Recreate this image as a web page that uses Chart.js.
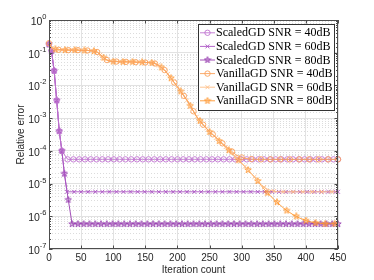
<!DOCTYPE html>
<html>
<head>
<meta charset="utf-8">
<script src="https://cdn.jsdelivr.net/npm/chart.js@4.4.1/dist/chart.umd.min.js"></script>
<style>
  html, body { margin: 0; padding: 0; background: #fff; }
  #chart { display: block; }
</style>
</head>
<body>
<canvas id="chart" width="374" height="280"></canvas>
<script>
// x axis ticks
const xTicks = [0, 50, 100, 150, 200, 250, 300, 350, 400, 450];

// ScaledGD runs (iteration, relative error)
const scaled40Iters = [0, 4, 8, 12, 16, 20, 29, 38, 47, 56, 65, 74, 83, 92, 101, 110, 119, 128, 137, 146,
  155, 164, 173, 182, 191, 200, 209, 218, 227, 236, 245, 254, 263, 272, 281, 290, 299, 308, 317, 326,
  335, 344, 353, 362, 371, 380, 389, 398, 407, 416, 425, 434, 443, 450];
const scaled40Err = [0.18, 0.112, 0.028, 3.5e-3, 4.0e-4, 1.0e-4, 5.5e-5, 5.5e-5, 5.5e-5, 5.5e-5,
  5.5e-5, 5.5e-5, 5.5e-5, 5.5e-5, 5.5e-5, 5.5e-5, 5.5e-5, 5.5e-5, 5.5e-5, 5.5e-5,
  5.5e-5, 5.5e-5, 5.5e-5, 5.5e-5, 5.5e-5, 5.5e-5, 5.5e-5, 5.5e-5, 5.5e-5, 5.5e-5,
  5.5e-5, 5.5e-5, 5.5e-5, 5.5e-5, 5.5e-5, 5.5e-5, 5.5e-5, 5.5e-5, 5.5e-5, 5.5e-5,
  5.5e-5, 5.5e-5, 5.5e-5, 5.5e-5, 5.5e-5, 5.5e-5, 5.5e-5, 5.5e-5, 5.5e-5, 5.5e-5,
  5.5e-5, 5.5e-5, 5.5e-5, 5.5e-5];

const scaled60Iters = [0, 4, 8, 12, 16, 20, 24, 28, 39, 50, 61, 72, 83, 94, 105, 116, 127, 138, 149, 160,
  171, 182, 193, 204, 215, 226, 237, 248, 259, 270, 281, 292, 303, 314, 325, 336, 347, 358, 369, 380,
  391, 402, 413, 424, 435, 446, 450];
const scaled60Err = [0.18, 0.112, 0.028, 3.5e-3, 4.0e-4, 1.0e-4, 2.0e-5, 5.6e-6, 5.6e-6, 5.6e-6,
  5.6e-6, 5.6e-6, 5.6e-6, 5.6e-6, 5.6e-6, 5.6e-6, 5.6e-6, 5.6e-6, 5.6e-6, 5.6e-6,
  5.6e-6, 5.6e-6, 5.6e-6, 5.6e-6, 5.6e-6, 5.6e-6, 5.6e-6, 5.6e-6, 5.6e-6, 5.6e-6,
  5.6e-6, 5.6e-6, 5.6e-6, 5.6e-6, 5.6e-6, 5.6e-6, 5.6e-6, 5.6e-6, 5.6e-6, 5.6e-6,
  5.6e-6, 5.6e-6, 5.6e-6, 5.6e-6, 5.6e-6, 5.6e-6, 5.6e-6];

const scaled80Iters = [0, 4, 8, 12, 16, 20, 24, 30, 36, 45, 54, 63, 72, 81, 90, 99, 108, 117, 126, 135,
  144, 153, 162, 171, 180, 189, 198, 207, 216, 225, 234, 243, 252, 261, 270, 279, 288, 297, 306, 315,
  324, 333, 342, 351, 360, 369, 378, 387, 396, 405, 414, 423, 432, 441, 450];
const scaled80Err = [0.18, 0.112, 0.028, 3.5e-3, 4.0e-4, 1.0e-4, 2.0e-5, 3.2e-6, 5.8e-7, 5.8e-7,
  5.8e-7, 5.8e-7, 5.8e-7, 5.8e-7, 5.8e-7, 5.8e-7, 5.8e-7, 5.8e-7, 5.8e-7, 5.8e-7,
  5.8e-7, 5.8e-7, 5.8e-7, 5.8e-7, 5.8e-7, 5.8e-7, 5.8e-7, 5.8e-7, 5.8e-7, 5.8e-7,
  5.8e-7, 5.8e-7, 5.8e-7, 5.8e-7, 5.8e-7, 5.8e-7, 5.8e-7, 5.8e-7, 5.8e-7, 5.8e-7,
  5.8e-7, 5.8e-7, 5.8e-7, 5.8e-7, 5.8e-7, 5.8e-7, 5.8e-7, 5.8e-7, 5.8e-7, 5.8e-7,
  5.8e-7, 5.8e-7, 5.8e-7, 5.8e-7, 5.8e-7];

// VanillaGD runs, all sampled at the same iterations
const vanillaIters = [0, 5, 10, 15, 20, 25, 30, 35, 40, 45,
  50, 55, 60, 65, 70, 75, 80, 85, 90, 95,
  100, 105, 110, 115, 120, 125, 130, 135, 140, 145,
  150, 155, 160, 165, 170, 175, 180, 185, 190, 195,
  200, 205, 210, 215, 220, 225, 230, 235, 240, 245,
  250, 255, 260, 265, 270, 275, 280, 285, 290, 295,
  300, 305, 310, 315, 320, 325, 330, 335, 340, 345,
  350, 355, 360, 365, 370, 375, 380, 385, 390, 395,
  400, 405, 410, 415, 420, 425, 430, 435, 440, 445,
  450];
const vanilla40Err = [0.195, 0.138, 0.126, 0.123, 0.123, 0.120, 0.120, 0.120, 0.120, 0.120,
  0.117, 0.117, 0.117, 0.115, 0.112, 0.105, 0.087, 0.071, 0.060, 0.055,
  0.0537, 0.0537, 0.0525, 0.0525, 0.0525, 0.0525, 0.0525, 0.0513, 0.0513, 0.0513,
  0.0501, 0.0501, 0.049, 0.0468, 0.0417, 0.0355, 0.0295, 0.0224, 0.0166, 0.0123,
  9.1e-3, 6.6e-3, 4.8e-3, 3.5e-3, 2.4e-3, 1.62e-3, 1.1e-3, 8.3e-4, 6.3e-4, 4.9e-4,
  3.8e-4, 3.2e-4, 2.6e-4, 2.1e-4, 1.7e-4, 1.4e-4, 1.15e-4, 9.5e-5, 7.9e-5, 6.9e-5,
  6.3e-5, 5.9e-5, 5.7e-5, 5.6e-5, 5.5e-5, 5.5e-5, 5.5e-5, 5.5e-5, 5.5e-5, 5.5e-5,
  5.5e-5, 5.5e-5, 5.5e-5, 5.5e-5, 5.5e-5, 5.5e-5, 5.5e-5, 5.5e-5, 5.5e-5, 5.5e-5,
  5.5e-5, 5.5e-5, 5.5e-5, 5.5e-5, 5.5e-5, 5.5e-5, 5.5e-5, 5.5e-5, 5.5e-5, 5.5e-5,
  5.5e-5];
const vanilla60Err = [0.195, 0.138, 0.126, 0.123, 0.123, 0.120, 0.120, 0.120, 0.120, 0.120,
  0.117, 0.117, 0.117, 0.115, 0.112, 0.105, 0.087, 0.071, 0.060, 0.055,
  0.0537, 0.0537, 0.0525, 0.0525, 0.0525, 0.0525, 0.0525, 0.0513, 0.0513, 0.0513,
  0.0501, 0.0501, 0.049, 0.0468, 0.0417, 0.0355, 0.0295, 0.0224, 0.0166, 0.0123,
  9.1e-3, 6.6e-3, 4.8e-3, 3.5e-3, 2.4e-3, 1.62e-3, 1.1e-3, 8.3e-4, 6.3e-4, 4.9e-4,
  3.8e-4, 3.1e-4, 2.5e-4, 2.0e-4, 1.6e-4, 1.3e-4, 1.05e-4, 8.3e-5, 6.6e-5, 5.2e-5,
  4.2e-5, 3.3e-5, 2.6e-5, 2.0e-5, 1.6e-5, 1.2e-5, 9.3e-6, 7.8e-6, 6.8e-6, 6.2e-6,
  5.9e-6, 5.7e-6, 5.6e-6, 5.6e-6, 5.6e-6, 5.6e-6, 5.6e-6, 5.6e-6, 5.6e-6, 5.6e-6,
  5.6e-6, 5.6e-6, 5.6e-6, 5.6e-6, 5.6e-6, 5.6e-6, 5.6e-6, 5.6e-6, 5.6e-6, 5.6e-6,
  5.6e-6];
const vanilla80Err = [0.195, 0.138, 0.126, 0.123, 0.123, 0.120, 0.120, 0.120, 0.120, 0.120,
  0.117, 0.117, 0.117, 0.115, 0.112, 0.105, 0.087, 0.071, 0.060, 0.055,
  0.0537, 0.0537, 0.0525, 0.0525, 0.0525, 0.0525, 0.0525, 0.0513, 0.0513, 0.0513,
  0.0501, 0.0501, 0.049, 0.0468, 0.0417, 0.0355, 0.0295, 0.0224, 0.0166, 0.0123,
  9.1e-3, 6.6e-3, 4.8e-3, 3.5e-3, 2.4e-3, 1.62e-3, 1.1e-3, 8.3e-4, 6.3e-4, 4.9e-4,
  3.8e-4, 3.1e-4, 2.5e-4, 2.0e-4, 1.6e-4, 1.3e-4, 1.05e-4, 8.3e-5, 6.6e-5, 5.2e-5,
  4.2e-5, 3.3e-5, 2.6e-5, 2.0e-5, 1.6e-5, 1.2e-5, 8.9e-6, 6.8e-6, 5.2e-6, 4.2e-6,
  3.3e-6, 2.7e-6, 2.2e-6, 1.8e-6, 1.5e-6, 1.3e-6, 1.12e-6, 1.0e-6, 8.9e-7, 8.1e-7,
  7.4e-7, 6.9e-7, 6.6e-7, 6.3e-7, 6.2e-7, 6.0e-7, 5.9e-7, 5.9e-7, 5.9e-7, 5.9e-7,
  5.9e-7];

const seriesLabels = [
  'ScaledGD SNR = 40dB', 'ScaledGD SNR = 60dB', 'ScaledGD SNR = 80dB',
  'VanillaGD SNR = 40dB', 'VanillaGD SNR = 60dB', 'VanillaGD SNR = 80dB'
];

const TEXT = '#262626';
const SANS = '"Liberation Sans", Arial, sans-serif';

function isDecade(v) {
  if (!(v > 0)) return false;
  const l = Math.log10(v);
  return Math.abs(l - Math.round(l)) < 1e-6;
}

function pairs(xs, ys) {
  return xs.map((x, i) => ({ x: x, y: ys[i] }));
}

// small pentagram marker as a canvas
function makeStar(stroke, fill, size) {
  const c = document.createElement('canvas');
  c.width = size; c.height = size;
  const g = c.getContext('2d');
  const cx = size / 2, cy = size / 2, ro = size / 2 - 0.6, ri = ro * 0.42;
  g.beginPath();
  for (let i = 0; i < 10; i++) {
    const a = -Math.PI / 2 + i * Math.PI / 5;
    const r = i % 2 ? ri : ro;
    g.lineTo(cx + r * Math.cos(a), cy + r * Math.sin(a));
  }
  g.closePath();
  g.fillStyle = fill;
  g.fill();
  g.strokeStyle = stroke;
  g.lineWidth = 0.8;
  g.stroke();
  return c;
}

const colors = {
  s40: 'rgb(192,115,208)',
  s60: 'rgb(172,85,196)',
  s80: 'rgb(150,58,175)',
  v40: 'rgb(250,160,90)',
  v60: 'rgb(255,190,135)',
  v80: 'rgb(255,150,45)'
};

function series(label, data, color, style, size, order, markerEvery, phase) {
  return {
    label: label,
    data: data,
    borderColor: color,
    borderWidth: 0.9,
    pointStyle: style,
    pointBorderColor: color,
    pointBackgroundColor: 'rgba(0,0,0,0)',
    pointBorderWidth: 0.9,
    pointRadius: markerEvery ? (c => (c.dataIndex % markerEvery === phase ? size : 0)) : size,
    markerSize: size,
    order: order,
    clip: false,
    tension: 0
  };
}

const datasets = [
  series(seriesLabels[0], pairs(scaled40Iters, scaled40Err), colors.s40, 'circle', 2.7, 1),
  series(seriesLabels[1], pairs(scaled60Iters, scaled60Err), colors.s60, 'crossRot', 2.8, 1),
  series(seriesLabels[2], pairs(scaled80Iters, scaled80Err), colors.s80,
    makeStar(colors.s80, 'rgba(150,58,175,0.3)', 8), 3, 1),
  series(seriesLabels[3], pairs(vanillaIters, vanilla40Err), colors.v40, 'circle', 2.7, 0, 3, 0),
  series(seriesLabels[4], pairs(vanillaIters, vanilla60Err), colors.v60, 'crossRot', 2.8, 0, 3, 1),
  series(seriesLabels[5], pairs(vanillaIters, vanilla80Err), colors.v80,
    makeStar(colors.v80, 'rgba(255,150,45,0.3)', 8), 3, 0, 3, 2)
];

// box, inward ticks, power-of-ten labels and the legend inside the axes
const axesDecor = {
  id: 'axesDecor',
  afterDraw(chart) {
    const { ctx, chartArea: a, scales } = chart;
    ctx.save();
    ctx.strokeStyle = '#4d4d4d';
    ctx.lineWidth = 1;
    ctx.beginPath();
    scales.y.ticks.forEach(t => {
      const py = Math.round(scales.y.getPixelForValue(t.value)) + 0.5;
      const len = isDecade(t.value) ? 3.5 : 2;
      ctx.moveTo(a.left, py); ctx.lineTo(a.left + len, py);
      ctx.moveTo(a.right, py); ctx.lineTo(a.right - len, py);
    });
    scales.x.ticks.forEach(t => {
      const px = Math.round(scales.x.getPixelForValue(t.value)) + 0.5;
      ctx.moveTo(px, a.bottom); ctx.lineTo(px, a.bottom - 3.5);
      ctx.moveTo(px, a.top); ctx.lineTo(px, a.top + 3.5);
    });
    ctx.stroke();
    ctx.strokeRect(Math.round(a.left) + 0.5, Math.round(a.top) + 0.5,
      Math.round(a.right - a.left) - 1, Math.round(a.bottom - a.top) - 1);

    // y labels as 10 with a raised exponent
    ctx.fillStyle = TEXT;
    ctx.textAlign = 'right';
    ctx.textBaseline = 'middle';
    const xr = a.left - 2.5;
    scales.y.ticks.forEach(t => {
      if (!isDecade(t.value)) return;
      const py = scales.y.getPixelForValue(t.value);
      const exp = String(Math.round(Math.log10(t.value)));
      ctx.font = '7.5px ' + SANS;
      const ew = ctx.measureText(exp).width;
      ctx.fillText(exp, xr, py - 3);
      ctx.font = '10.5px ' + SANS;
      ctx.fillText('10', xr - ew, py + 2);
    });

    // legend
    const items = chart.data.datasets;
    ctx.font = '12px "Liberation Serif", "Times New Roman", serif';
    const textW = Math.max(...items.map(d => ctx.measureText(d.label).width));
    const rowH = 13.6;
    const w = Math.round(2 + 15 + 1 + textW + 2);
    const h = Math.round(items.length * rowH + 4);
    const x0 = Math.round(a.right - 4 - w);
    const y0 = Math.round(a.top + 4);
    ctx.fillStyle = '#fff';
    ctx.fillRect(x0, y0, w, h);
    ctx.strokeStyle = '#333';
    ctx.strokeRect(x0 + 0.5, y0 + 0.5, w, h);
    const drawPoint = Chart.helpers && Chart.helpers.drawPoint;
    items.forEach((d, k) => {
      const y = y0 + 2 + rowH * (k + 0.5);
      ctx.strokeStyle = d.borderColor;
      ctx.lineWidth = d.borderWidth;
      ctx.beginPath();
      ctx.moveTo(x0 + 2, y); ctx.lineTo(x0 + 17, y);
      ctx.stroke();
      ctx.fillStyle = d.pointBackgroundColor;
      ctx.lineWidth = d.pointBorderWidth;
      if (drawPoint) {
        drawPoint(ctx, { pointStyle: d.pointStyle, radius: d.markerSize, rotation: 0,
          borderWidth: d.pointBorderWidth }, x0 + 9.5, y);
      }
      ctx.fillStyle = '#000';
      ctx.textBaseline = 'middle';
      ctx.textAlign = 'left';
      ctx.fillText(d.label, x0 + 18, y + 0.5);
    });
    ctx.restore();
  }
};

new Chart(document.getElementById('chart'), {
  type: 'line',
  data: { datasets: datasets },
  options: {
    responsive: false,
    animation: false,
    events: [],
    layout: { padding: { top: 20, right: 36, bottom: 0, left: 0 } },
    plugins: {
      legend: { display: false },
      tooltip: { enabled: false }
    },
    scales: {
      x: {
        type: 'linear',
        min: 0,
        max: 450,
        afterBuildTicks: s => { s.ticks = xTicks.map(v => ({ value: v })); },
        afterFit: s => { s.height = 31; },
        ticks: { autoSkip: false, maxRotation: 0, padding: 3, color: TEXT, font: { family: SANS, size: 10 } },
        grid: { color: '#e2e2e2', drawTicks: false },
        border: { display: false },
        title: { display: true, text: 'Iteration count', color: TEXT,
          font: { family: SANS, size: 10 }, padding: { top: 0, bottom: 4 } }
      },
      y: {
        type: 'logarithmic',
        min: 1e-7,
        max: 1,
        afterFit: s => { s.width = 49; },
        ticks: { display: false, autoSkip: false },
        grid: {
          color: c => (c.tick && isDecade(c.tick.value)) ? '#e2e2e2' : '#dcdcdc',
          drawTicks: false
        },
        border: {
          display: false,
          dash: c => (c.tick && !isDecade(c.tick.value)) ? [1, 2] : []
        },
        title: { display: true, text: 'Relative error', color: TEXT,
          font: { family: SANS, size: 10 }, padding: { top: 15, bottom: 0 } }
      }
    }
  },
  plugins: [axesDecor]
});
</script>
</body>
</html>
